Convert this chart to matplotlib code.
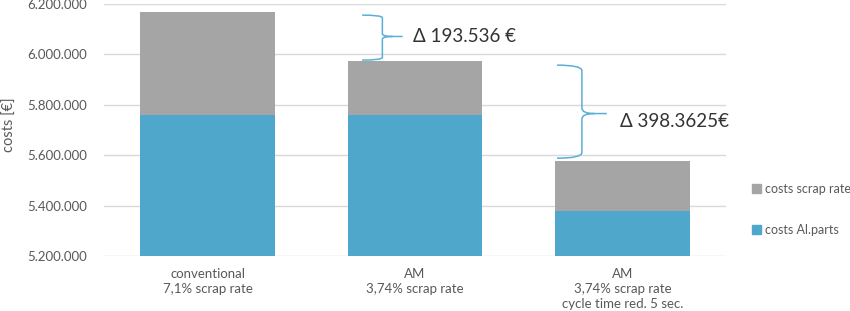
import matplotlib
matplotlib.use("Agg")
import matplotlib.pyplot as plt
from matplotlib.path import Path
from matplotlib.patches import PathPatch, Patch
from matplotlib.ticker import FuncFormatter
import numpy as np

plt.rcParams['font.family'] = ['Lato', 'DejaVu Sans']

categories = ["conventional\n7,1% scrap rate",
              "AM\n3,74% scrap rate",
              "AM\n3,74% scrap rate\ncycle time red. 5 sec."]
costs_al_parts = [5760000, 5760000, 5378000]
costs_scrap = [408000, 214464, 198102]
delta_labels = ["\u0394 193.536 \u20ac", "\u0394 398.3625\u20ac"]
y_ticks = [5200000, 5400000, 5600000, 5800000, 6000000, 6200000]

BLUE = "#4FA8CC"
GRAY = "#A5A5A5"
TXT = "#595959"
BRACE = "#5AAFD6"

fig = plt.figure(figsize=(8.5, 3.11), dpi=100)
ax = fig.add_axes([0.1221, 0.177, 0.7324, 0.81])

x = np.arange(len(categories))
base = 5200000
al = np.array(costs_al_parts)
sc = np.array(costs_scrap)
totals = al + sc

ax.bar(x, al - base, bottom=base, width=0.65, color=BLUE, zorder=3)
ax.bar(x, sc, bottom=al, width=0.65, color=GRAY, zorder=3)

ax.set_xlim(-0.5, 2.5)
ax.set_ylim(5200000, 6200000)
ax.set_yticks(y_ticks)
ax.yaxis.set_major_formatter(FuncFormatter(lambda v, p: f"{int(v):,}".replace(",", ".")))
ax.set_xticks(x)
ax.set_xticklabels(categories, color=TXT, fontsize=9.5, linespacing=1.3)
ax.tick_params(axis='both', length=0, colors=TXT, labelsize=9.5)
ax.tick_params(axis='y', pad=12)
ax.tick_params(axis='x', pad=9)
for s in ax.spines.values():
    s.set_visible(False)
ax.grid(axis='y', color="#D9D9D9", linewidth=1.0, zorder=0)
ax.set_axisbelow(True)
ax.set_ylabel("costs [\u20ac]", color=TXT, fontsize=10.5)
ax.yaxis.set_label_coords(-0.14, 0.52)


def brace(ax, x0, w, ytop, ybot, ytip):
    xs = x0 + w * 0.5
    xt = x0 + w
    h = ytop - ybot
    dy = h * 0.06
    verts = [(x0, ytop), (xs, ytop), (xs, ytop - dy),
             (xs, ytip + dy),
             (xs, ytip), (xs + (xt - xs) * 0.5, ytip),
             (xt, ytip),
             (xs + (xt - xs) * 0.5, ytip), (xs, ytip), (xs, ytip - dy),
             (xs, ybot + dy),
             (xs, ybot), (x0, ybot)]
    codes = [Path.MOVETO, Path.CURVE3, Path.CURVE3,
             Path.LINETO,
             Path.CURVE3, Path.CURVE3,
             Path.LINETO,
             Path.MOVETO, Path.CURVE3, Path.CURVE3,
             Path.LINETO,
             Path.CURVE3, Path.CURVE3]
    ax.add_patch(PathPatch(Path(verts, codes), fill=False, edgecolor=BRACE,
                           linewidth=1.1, zorder=4, clip_on=False))


mid1 = (totals[0] + totals[1]) / 2
mid2 = (totals[1] + totals[2]) / 2
brace(ax, 0.745, 0.195, totals[0] - 12000, totals[1] + 3000, mid1)
brace(ax, 1.684, 0.24, totals[1] - 17000, totals[2] + 12000, mid2 - 10000)
ax.text(0.99, mid1, delta_labels[0],
        fontsize=13.5, color="#333333", va='center', ha='left')
ax.text(1.99, mid2 - 42000, delta_labels[1],
        fontsize=13.5, color="#333333", va='center', ha='left')

handles = [Patch(color=GRAY), Patch(color=BLUE)]
fig.legend(handles, ["costs scrap rate", "costs Al.parts"],
           loc='upper left', bbox_to_anchor=(0.871, 0.448),
           frameon=False, fontsize=9, labelcolor=TXT,
           handlelength=0.75, handleheight=0.75, handletextpad=0.35,
           labelspacing=2.3)

fig.savefig("out.png", dpi=100)
